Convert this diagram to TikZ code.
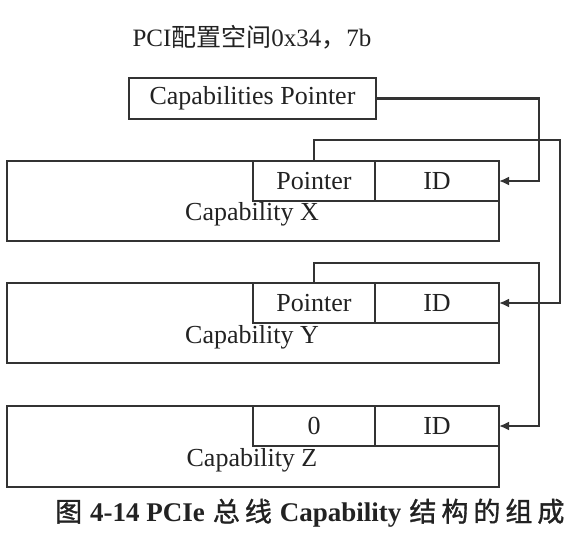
\documentclass[tikz,border=0pt]{standalone}
\usepackage{fontspec}
\setmainfont{Liberation Serif}
\newfontfamily\cjk{Noto Sans CJK SC}
\newfontfamily\cjkfb[FakeBold=1.2]{Noto Sans CJK SC}
\usetikzlibrary{arrows.meta}
\definecolor{ln}{HTML}{333333}
\definecolor{tx}{HTML}{222222}
\newcommand{\cs}{\hspace{5pt}}
\newcommand{\cjm}{\mdseries\cjkfb}
\begin{document}
\begin{tikzpicture}[x=1pt,y=-1pt,
  box/.style={draw=ln,line width=2.3pt,fill=white,inner sep=0pt,outer sep=0pt},
  lbl/.style={inner sep=0pt,text=tx,font=\fontsize{26}{28}\selectfont},
  conn/.style={draw=ln,line width=2.2pt,-{Latex[length=10pt,width=9pt]}},
  plain/.style={draw=ln,line width=2.2pt}]
\useasboundingbox (0,0) rectangle (587,539);
\fill[white] (0,0) rectangle (587,539);

\node[lbl,font=\fontsize{25}{28}\selectfont] (title) at (252,37) {PCI{\cjk 配置空间}0x34{\cjk ，}7b};

\node[box,minimum width=247pt,minimum height=41pt] (capptr) at (252.5,98.5) {};
\node[lbl] (capptrt) at (capptr.center) {Capabilities Pointer};

% Capability X
\node[box,minimum width=492pt,minimum height=80pt] (capX) at (253,201) {};
\node[box,minimum width=122pt,minimum height=40pt] (ptrX) at (314,181) {};
\node[box,minimum width=124pt,minimum height=40pt] (idX) at (437,181) {};
\node[lbl] at (ptrX.center) {Pointer};
\node[lbl] at (idX.center) {ID};
\node[lbl] (labX) at (252,214) {Capability X};

% Capability Y
\node[box,minimum width=492pt,minimum height=80pt] (capY) at (253,323) {};
\node[box,minimum width=122pt,minimum height=40pt] (ptrY) at (314,303) {};
\node[box,minimum width=124pt,minimum height=40pt] (idY) at (437,303) {};
\node[lbl] at (ptrY.center) {Pointer};
\node[lbl] at (idY.center) {ID};
\node[lbl] (labY) at (252,337) {Capability Y};

% Capability Z
\node[box,minimum width=492pt,minimum height=81pt] (capZ) at (253,446.5) {};
\node[box,minimum width=122pt,minimum height=40pt] (ptrZ) at (314,426) {};
\node[box,minimum width=124pt,minimum height=40pt] (idZ) at (437,426) {};
\node[lbl] at (ptrZ.center) {0};
\node[lbl] at (idZ.center) {ID};
\node[lbl] (labZ) at (252,460) {Capability Z};

% connectors
\draw[conn] (capptr.east) -- (539,98.5) |- (idX.east);
\draw[conn] (ptrX.north) |- (560,140) |- (idY.east);
\draw[conn] (ptrY.north) |- (539,263) |- (idZ.east);

\node[lbl,anchor=west,font=\fontsize{27}{30}\bfseries] (caption) at (55,513)
  {{\cjm 图}\hspace{8pt}4-14 PCIe\hspace{8pt}{\cjm 总\cs 线}\hspace{8pt}Capability\hspace{8pt}{\cjm 结\cs 构\cs 的\cs 组\cs 成}};
\end{tikzpicture}
\end{document}
